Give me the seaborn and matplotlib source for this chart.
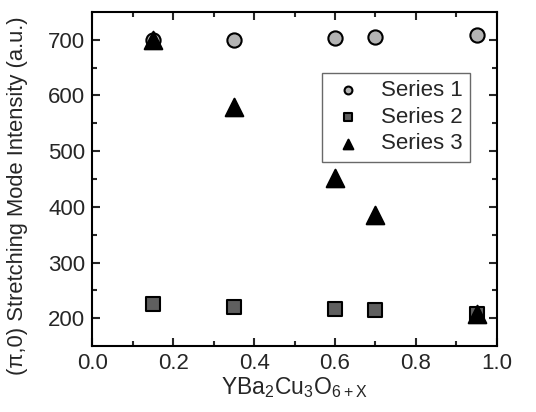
import matplotlib
matplotlib.use("Agg")
import matplotlib.pyplot as plt
import seaborn as sns
import pandas as pd

x_vals = [0.15, 0.35, 0.60, 0.70, 0.95]
series1 = [700, 700, 703, 705, 709]
series2 = [225, 221, 217, 214, 208]
series3 = [700, 579, 452, 386, 208]
series_names = ["Series 1", "Series 2", "Series 3"]

sns.set_theme(style="ticks")
plt.rcParams["font.family"] = ["Liberation Sans", "DejaVu Sans"]
plt.rcParams["mathtext.fontset"] = "custom"
plt.rcParams["mathtext.rm"] = "Liberation Sans"
plt.rcParams["mathtext.default"] = "regular"

rows = []
for name, vals in zip(series_names, [series1, series2, series3]):
    for x, v in zip(x_vals, vals):
        rows.append({"x": x, "y": v, "series": name})
df = pd.DataFrame(rows)

fig = plt.figure(figsize=(5.36, 4.12), dpi=100)
ax = fig.add_axes([0.172, 0.160, 0.755, 0.811])

styles = {
    "Series 1": dict(marker="o", color="#b4b4b4", s=105),
    "Series 2": dict(marker="s", color="#5f5f5f", s=100),
    "Series 3": dict(marker="^", color="#000000", s=160),
}
for i, name in enumerate(series_names):
    st = styles[name]
    sns.scatterplot(data=df[df["series"] == name], x="x", y="y", ax=ax,
                    marker=st["marker"], color=st["color"], s=st["s"],
                    edgecolor="black", linewidth=1.5, label=name, zorder=3 + i)

ax.set_xlim(0, 1.0)
ax.set_ylim(150, 750)
ax.set_xticks([0.0, 0.2, 0.4, 0.6, 0.8, 1.0])
ax.set_xticks([0.1, 0.3, 0.5, 0.7, 0.9], minor=True)
ax.set_yticks([200, 300, 400, 500, 600, 700])
ax.set_yticks([250, 350, 450, 550, 650], minor=True)
ax.set_xticklabels(["0.0", "0.2", "0.4", "0.6", "0.8", "1.0"])

ax.tick_params(which="both", direction="in", top=True, right=True, width=1.5,
               labelsize=16, pad=5)
ax.tick_params(which="major", length=6)
ax.tick_params(which="minor", length=3.5)
for sp in ax.spines.values():
    sp.set_linewidth(1.5)
    sp.set_color("black")

ax.set_xlabel("YBa$_2$Cu$_3$O$_{6+X}$", fontsize=16.5, labelpad=1)
ax.set_ylabel("(π,0) Stretching Mode Intensity (a.u.)", fontsize=15.8)
ax.yaxis.set_label_coords(-0.158, 0.45)

leg = ax.legend(loc="upper right", bbox_to_anchor=(0.962, 0.852), fontsize=16,
                frameon=True, fancybox=False, edgecolor="#444444",
                markerscale=0.55, handletextpad=0.7, borderpad=0.35,
                labelspacing=0.25, handlelength=1.6)
leg.get_frame().set_linewidth(1.0)

fig.savefig("out.png", dpi=100)
